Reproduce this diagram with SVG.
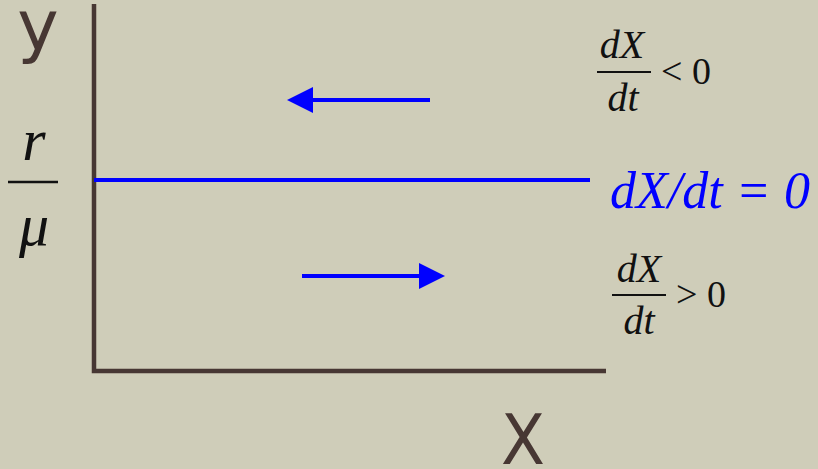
<svg xmlns="http://www.w3.org/2000/svg" width="818" height="469" viewBox="0 0 818 469">
<defs>
<style>
.axis{stroke:#473733;stroke-width:4.5;fill:none}
.blue{stroke:#0000ff;stroke-width:4;fill:none}
.math{font-family:"Liberation Serif",serif;fill:#111}
.mi{font-style:italic}
.lbl{font-family:"DejaVu Sans","Liberation Sans",sans-serif;fill:#473733}
</style>
<marker id="ah" markerWidth="7" markerHeight="7" refX="3" refY="3.25" orient="auto" markerUnits="strokeWidth">
<path d="M0,0 L6.5,3.25 L0,6.5 Z" fill="#0000ff"/>
</marker>
</defs>
<rect width="818" height="469" fill="#cfcdb9"/>
<g id="axes">
<path class="axis" d="M94,4 V371 H606"/>
</g>
<g id="labels">
<text class="lbl" x="38" y="50" font-size="70" text-anchor="middle">y</text>
<text class="lbl" x="523" y="464" font-size="70" text-anchor="middle" textLength="44" lengthAdjust="spacingAndGlyphs">X</text>
<text class="math mi" x="34" y="160" font-size="60" text-anchor="middle">r</text>
<line x1="8" y1="182" x2="58" y2="182" stroke="#111" stroke-width="2.5"/>
<text class="math mi" x="34" y="245" font-size="60" text-anchor="middle">μ</text>
</g>
<g id="connectors">
<line class="blue" x1="94" y1="180" x2="590" y2="180"/>
<line class="blue" x1="430" y1="100" x2="301" y2="100" marker-end="url(#ah)"/>
<line class="blue" x1="302" y1="276" x2="431" y2="276" marker-end="url(#ah)"/>
</g>
<g id="eq-neg">
<text class="math mi" x="622" y="58" font-size="40" text-anchor="middle">dX</text>
<line x1="597" y1="72" x2="651" y2="72" stroke="#111" stroke-width="2"/>
<text class="math mi" x="623" y="111" font-size="40" text-anchor="middle">dt</text>
<text class="math" x="661" y="84" font-size="38">&lt; 0</text>
</g>
<g id="eq-zero">
<text x="610" y="208" font-family="Liberation Serif,serif" font-style="italic" font-size="52" fill="#0000ff" textLength="200" lengthAdjust="spacingAndGlyphs">dX/dt = 0</text>
</g>
<g id="eq-pos">
<text class="math mi" x="639" y="282" font-size="40" text-anchor="middle">dX</text>
<line x1="612" y1="295" x2="666" y2="295" stroke="#111" stroke-width="2"/>
<text class="math mi" x="639" y="334" font-size="40" text-anchor="middle">dt</text>
<text class="math" x="676" y="307" font-size="38">&gt; 0</text>
</g>
</svg>
